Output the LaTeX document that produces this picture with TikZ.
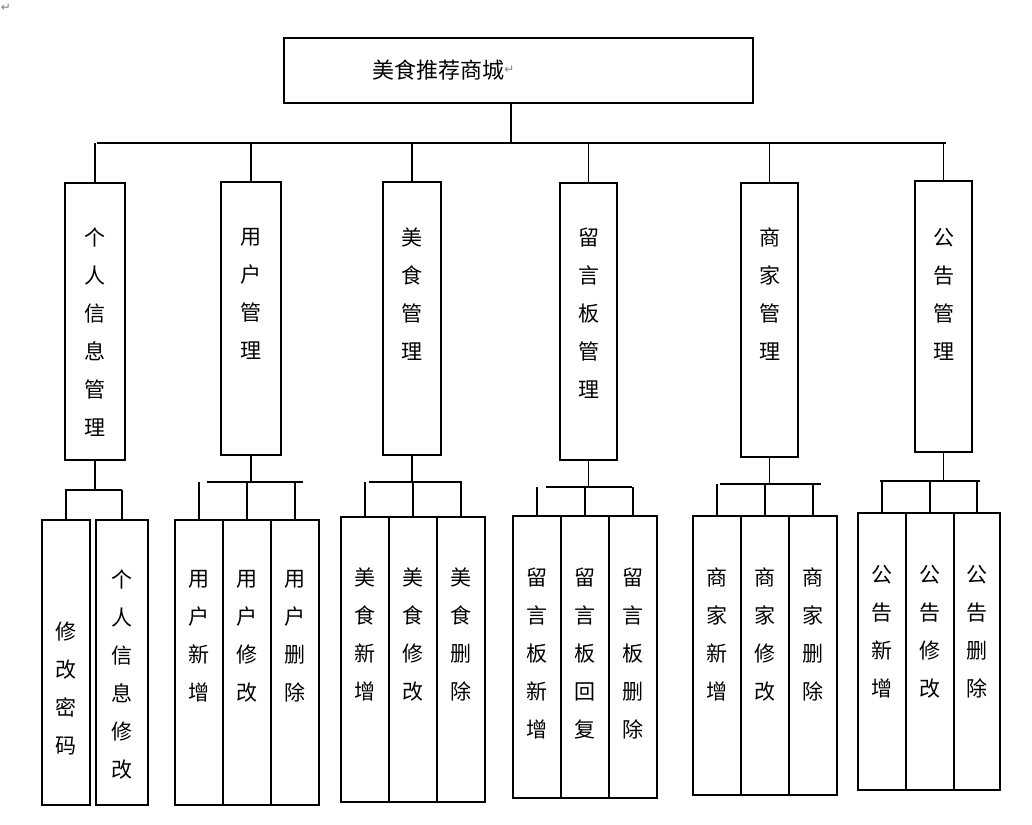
\documentclass[tikz,border=0pt]{standalone}
\usepackage{fontspec}
\newfontfamily\cjk{Noto Sans CJK SC}
\usetikzlibrary{fit}
\begin{document}
\begin{tikzpicture}[x=1pt,y=-1pt,
  box/.style={draw,line width=1.2pt,inner sep=0pt},
  wire/.style={line width=1.2pt},
  vt/.style={anchor=north,align=center,inner sep=0pt,font=\cjk\fontsize{21}{38}\selectfont},
  pmark/.style={font=\fontspec{DejaVu Sans}\fontsize{12}{12}\selectfont,text=gray,inner sep=0pt}]
\useasboundingbox (0,0) rectangle (1032,824);
\node[pmark] (m0) at (6,8) {↵};
% root
\node[box,fit={(284,38)(753,103)}] (root) {};
\node[inner sep=0pt,font=\cjk\fontsize{22}{22}\selectfont] (rt) at (438,70) {美食推荐商城};
\node[pmark,anchor=west] (rm) at (rt.east) {↵};
\coordinate (bus) at (511,143);
\draw[wire] (root.south -| bus) -- (bus);
\draw[wire] (97,143) coordinate (bl) -- (946,143) coordinate (br);
% modules
\foreach \n/\a/\b/\t/\bo/\ty/\txt in {
 m1/65/125/183/460/228/个\\人\\信\\息\\管\\理,
 m2/221/281/182/455/228/用\\户\\管\\理,
 m3/383/441/182/455/228/美\\食\\管\\理,
 m4/560/617/183/460/228/留\\言\\板\\管\\理,
 m5/741/798/183/457/228/商\\家\\管\\理,
 m6/915/972/181/452/228/公\\告\\管\\理}{
  \node[box,fit={(\a,\t)(\b,\bo)}] (\n) {};
  \node[vt] (\n t) at ({(\a+\b)/2},\ty) {\txt};
  \draw[wire] (\n.north) -- (\n.north |- bus);
}
\foreach \p/\hl/\hr/\hy in {
 m1/65/122/490,
 m2/207/303/482,
 m3/369/462/482,
 m4/546/632/487,
 m5/720/821/484,
 m6/880/980/481}{
  \draw[wire] (\p.south) -- (\p.south |- 0,\hy);
  \draw[wire] (\hl,\hy) -- (\hr,\hy);
}
\foreach \n/\a/\b/\t/\bo/\hy/\ty/\txt in {
 l11/42/90/520/805/490/622/修\\改\\密\\码,
 l12/96/148/520/805/490/570/个\\人\\信\\息\\修\\改,
 l21/175/223/520/805/482/570/用\\户\\新\\增,
 l22/223/271/520/805/482/570/用\\户\\修\\改,
 l23/271/319/520/805/482/570/用\\户\\删\\除,
 l31/341/389/517/802/482/568/美\\食\\新\\增,
 l32/389/437/517/802/482/568/美\\食\\修\\改,
 l33/437/485/517/802/482/568/美\\食\\删\\除,
 l41/513/561/516/798/487/568/留\\言\\板\\新\\增,
 l42/561/609/516/798/487/568/留\\言\\板\\回\\复,
 l43/609/657/516/798/487/568/留\\言\\板\\删\\除,
 l51/693/741/516/795/484/568/商\\家\\新\\增,
 l52/741/789/516/795/484/568/商\\家\\修\\改,
 l53/789/837/516/795/484/568/商\\家\\删\\除,
 l61/858/906/513/790/481/565/公\\告\\新\\增,
 l62/906/954/513/790/481/565/公\\告\\修\\改,
 l63/954/1000/513/790/481/565/公\\告\\删\\除}{
  \node[box,fit={(\a,\t)(\b,\bo)}] (\n) {};
  \node[vt] (\n t) at ({(\a+\b)/2},\ty) {\txt};
  \draw[wire] (\n.north) -- (\n.north |- 0,\hy);
}
\end{tikzpicture}
\end{document}
